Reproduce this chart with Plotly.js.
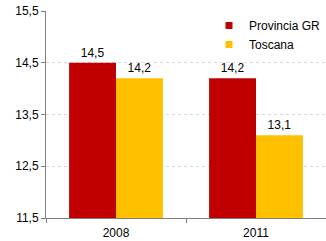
<!DOCTYPE html>
<html><head><meta charset="utf-8">
<script src="https://cdn.plot.ly/plotly-3.0.1.min.js"></script>
<style>body{margin:0;padding:0;background:#fff}#c{width:326px;height:241px}</style>
</head><body><div id="c"></div>
<script>
var categories = ["2008", "2011"];
var provinciaGR = [14.5, 14.2];
var toscana = [14.2, 13.1];
var seriesNames = ["Provincia GR", "Toscana"];
var colors = ["#C00000", "#FFC000"];
var yTicks = [11.5, 12.5, 13.5, 14.5, 15.5];

function fmt(v){ return v.toFixed(1).replace('.', ','); }
var tf = {family:'Liberation Sans, Arial', size:12, color:'#000'};

var traces = [
  {type:'bar', x:categories, y:provinciaGR, name:seriesNames[0], marker:{color:colors[0]},
   text:provinciaGR.map(fmt), textposition:'outside', cliponaxis:false, textfont:tf, showlegend:false},
  {type:'bar', x:categories, y:toscana, name:seriesNames[1], marker:{color:colors[1]},
   text:toscana.map(fmt), textposition:'outside', cliponaxis:false, textfont:tf, showlegend:false},
  {type:'scatter', mode:'markers', x:[null], y:[null], name:seriesNames[0],
   marker:{symbol:'square', size:7, color:colors[0]}},
  {type:'scatter', mode:'markers', x:[null], y:[null], name:seriesNames[1],
   marker:{symbol:'square', size:7, color:colors[1]}}
];
var layout = {
  width:326, height:241,
  margin:{l:46, r:0, t:11, b:23},
  separators:', ',
  barmode:'group', bargap:0.33, bargroupgap:0,
  paper_bgcolor:'#fff', plot_bgcolor:'#fff',
  font:{family:'Liberation Sans, Arial', size:12, color:'#000'},
  showlegend:true,
  legend:{x:1, y:1.0, xref:'paper', yref:'paper', xanchor:'right', yanchor:'top', bgcolor:'rgba(0,0,0,0)',
    font:{size:12}, tracegroupgap:0},
  xaxis:{type:'category', showline:true, linecolor:'#808080', linewidth:1,
    ticks:'outside', tickson:'boundaries', ticklen:4, tickcolor:'#808080',
    showgrid:false, tickfont:{size:12}, ticklabelstandoff:4},
  yaxis:{range:[11.5,15.5], tickvals:yTicks, ticktext:yTicks.map(fmt),
    showline:true, linecolor:'#808080', linewidth:1, ticks:'outside', ticklen:4, tickcolor:'#808080',
    showgrid:true, gridcolor:'#d9d9d9', griddash:'dot', gridwidth:1, zeroline:false,
    tickfont:{size:12}}
};
Plotly.newPlot('c', traces, layout, {displayModeBar:false, staticPlot:true});
</script></body></html>
